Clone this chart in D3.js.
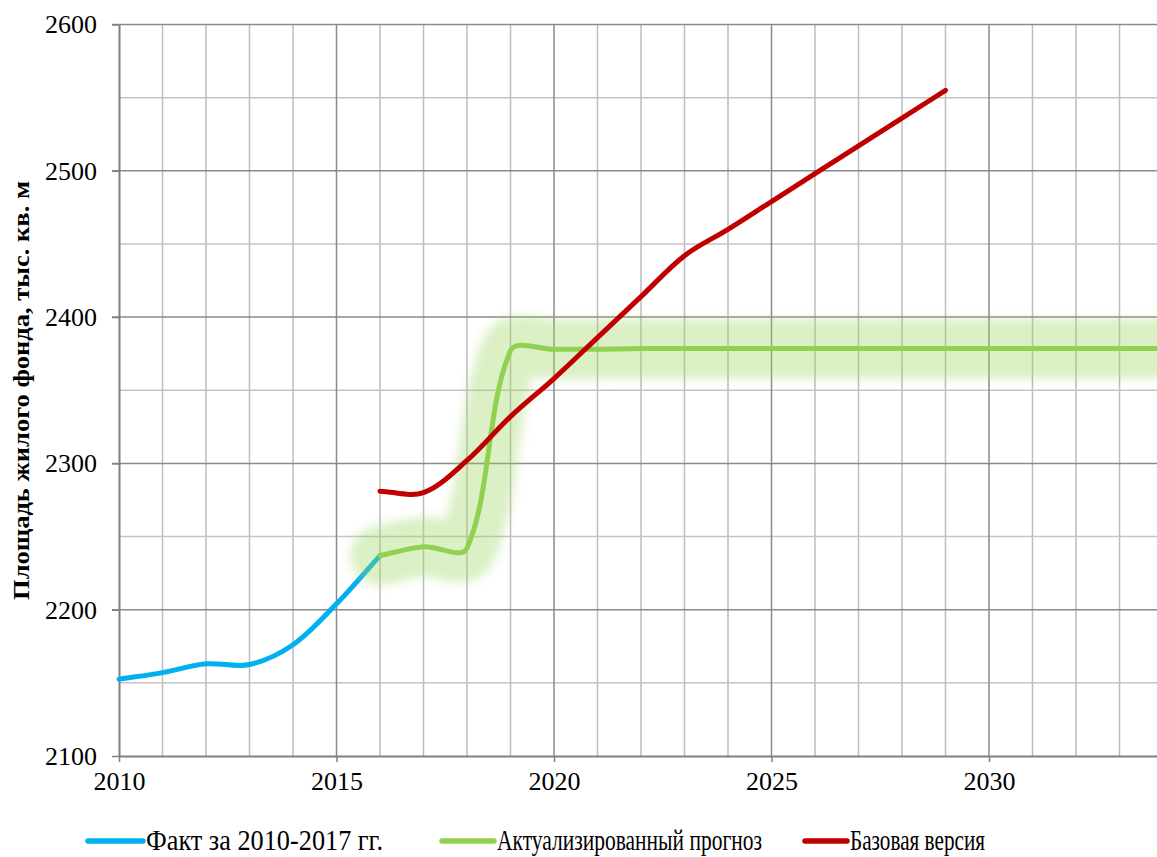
<!DOCTYPE html>
<html><head><meta charset="utf-8">
<script src="https://cdn.jsdelivr.net/npm/d3@7"></script>
<style>
html,body{margin:0;padding:0;background:#fff;}
svg{display:block;}
svg text{font-family:"Liberation Serif","Times New Roman",serif;}
</style></head>
<body><svg id="chart" width="1157" height="857"></svg>
<script>
// ---- data ----
const factYears = [2010, 2011, 2012, 2013, 2014, 2015, 2016];
const factValues = [2152.5, 2157, 2163, 2162.5, 2176, 2204, 2237];

const forecastYears = [2016, 2017, 2018, 2019, 2020, 2021, 2022, 2023, 2024, 2025, 2026, 2027, 2028, 2029, 2030, 2031, 2032, 2033, 2034];
const forecastValues = [2237, 2243, 2242, 2377, 2378, 2378, 2378.5, 2378.5, 2378.5, 2378.5, 2378.5, 2378.5, 2378.5, 2378.5, 2378.5, 2378.5, 2378.5, 2378.5, 2378.5];

const baseYears = [2016, 2017, 2018, 2019, 2020, 2021, 2022, 2023, 2024, 2025, 2026, 2027, 2028, 2029];
const baseValues = [2281, 2280, 2302, 2332, 2358, 2386, 2414, 2442, 2460, 2479, 2498, 2517, 2536, 2555];

const xTicks = [2010, 2015, 2020, 2025, 2030];
const yTicks = [2100, 2200, 2300, 2400, 2500, 2600];
const seriesNames = ["Факт за 2010-2017 гг.", "Актуализированный прогноз", "Базовая версия"];
const yTitle = "Площадь жилого фонда, тыс. кв. м";

// ---- layout ----
const FONT = "'Liberation Serif','Times New Roman',serif";
const svg = d3.select("#chart");
const mLeft = 119, mTop = 24.5, mBottom = 756;
const x = d3.scaleLinear().domain([2010, 2034]).range([mLeft, mLeft + 24 * 43.5]);
const y = d3.scaleLinear().domain([2100, 2600]).range([mBottom, mTop]);

const defs = svg.append("defs");
const f = defs.append("filter").attr("id", "glow").attr("x", "-20%").attr("y", "-50%").attr("width", "140%").attr("height", "200%");
f.append("feGaussianBlur").attr("stdDeviation", 5);

// grid
const g = svg.append("g");
const minorYears = d3.range(2011, 2035).filter(v => v % 5 !== 0);
const majorYears = d3.range(2015, 2035, 5);
const minorVals = d3.range(2150, 2600, 100);
const majorVals = [2200, 2300, 2400, 2500, 2600];

g.selectAll(".vmin").data(minorYears).enter().append("line")
  .attr("x1", d => x(d)).attr("x2", d => x(d)).attr("y1", y(2600)).attr("y2", y(2100))
  .attr("stroke", "#bdbdbd").attr("stroke-width", 1.5);
g.selectAll(".hmin").data(minorVals).enter().append("line")
  .attr("x1", mLeft).attr("x2", 1157).attr("y1", d => y(d)).attr("y2", d => y(d))
  .attr("stroke", "#c4c4c4").attr("stroke-width", 1.5);
g.selectAll(".vmaj").data(majorYears).enter().append("line")
  .attr("x1", d => x(d)).attr("x2", d => x(d)).attr("y1", y(2600)).attr("y2", y(2100))
  .attr("stroke", "#8a8a8a").attr("stroke-width", 1.5);
g.selectAll(".hmaj").data(majorVals).enter().append("line")
  .attr("x1", mLeft - 7).attr("x2", 1157).attr("y1", d => y(d)).attr("y2", d => y(d))
  .attr("stroke", "#8a8a8a").attr("stroke-width", 1.5);

// axes
const xAxis = svg.append("g").attr("transform", `translate(0,${mBottom})`)
  .call(d3.axisBottom(x).tickValues(xTicks).tickFormat(d3.format("d")).tickSize(6).tickSizeOuter(0));
xAxis.attr("font-family", FONT);
xAxis.select(".domain").attr("stroke", "#7f7f7f").attr("stroke-width", 2);
xAxis.selectAll(".tick line").attr("stroke", "#7f7f7f").attr("stroke-width", 1.5);
xAxis.selectAll("text").attr("font-size", 26).attr("fill", "#000").attr("font-family", FONT).attr("dy", "0.95em");

const yAxis = svg.append("g").attr("transform", `translate(${mLeft},0)`)
  .call(d3.axisLeft(y).tickValues(yTicks).tickFormat(d3.format("d")).tickSize(7).tickSizeOuter(0));
yAxis.attr("font-family", FONT);
yAxis.select(".domain").attr("stroke", "#7f7f7f").attr("stroke-width", 2);
yAxis.selectAll(".tick line").attr("stroke", "#7f7f7f").attr("stroke-width", 1.5);
yAxis.selectAll("text").attr("font-size", 26).attr("fill", "#000").attr("font-family", FONT).attr("x", -22);

// y title
svg.append("text").attr("transform", `translate(29,390.5) rotate(-90)`)
  .attr("text-anchor", "middle").attr("font-family", FONT).attr("font-size", 23).attr("font-weight", "bold")
  .attr("textLength", 419).attr("lengthAdjust", "spacingAndGlyphs").text(yTitle);

// Excel-style smoothed line (chord-length weighted Bezier) built with d3.path
function smoothPath(xs, vs) {
  const p = xs.map((d, i) => [x(d), y(vs[i])]);
  const path = d3.path();
  const dist = (a, b) => Math.hypot(b[0] - a[0], b[1] - a[1]);
  const s = 1 / 3;
  path.moveTo(p[0][0], p[0][1]);
  for (let i = 0; i < p.length - 1; i++) {
    const p0 = p[Math.max(i - 1, 0)], p1 = p[i], p2 = p[i + 1], p3 = p[Math.min(i + 2, p.length - 1)];
    const d01 = dist(p0, p1), d12 = dist(p1, p2), d23 = dist(p2, p3);
    const f1 = (d01 + d12) > 0 ? s * d12 / (d01 + d12) : 0;
    const f2 = (d12 + d23) > 0 ? s * d12 / (d12 + d23) : 0;
    const c1 = [p1[0] + (p2[0] - p0[0]) * f1, p1[1] + (p2[1] - p0[1]) * f1];
    const c2 = [p2[0] - (p3[0] - p1[0]) * f2, p2[1] - (p3[1] - p1[1]) * f2];
    path.bezierCurveTo(c1[0], c1[1], c2[0], c2[1], p2[0], p2[1]);
  }
  return path.toString();
}

const plot = svg.append("g");
plot.append("path").attr("d", smoothPath(factYears, factValues)).attr("fill", "none")
  .attr("stroke", "#00B0F0").attr("stroke-width", 5).attr("stroke-linecap", "round");
plot.append("path").attr("d", smoothPath(forecastYears, forecastValues)).attr("fill", "none")
  .attr("stroke", "#9ed560").attr("stroke-opacity", 0.36).attr("stroke-width", 60)
  .attr("stroke-linecap", "round").attr("stroke-linejoin", "round").attr("filter", "url(#glow)");
plot.append("path").attr("d", smoothPath(forecastYears, forecastValues)).attr("fill", "none")
  .attr("stroke", "#92D050").attr("stroke-width", 5).attr("stroke-linecap", "round");
plot.append("path").attr("d", smoothPath(baseYears, baseValues)).attr("fill", "none")
  .attr("stroke", "#C00000").attr("stroke-width", 5).attr("stroke-linecap", "round");

// legend
const colors = ["#00B0F0", "#92D050", "#C00000"];
const legLine = [[88, 143], [442, 494], [805, 847]];
const legText = [[146, 237], [497, 265], [850, 135]];
const legY = 841;
const leg = svg.append("g");
seriesNames.forEach((name, i) => {
  leg.append("line").attr("x1", legLine[i][0]).attr("x2", legLine[i][1]).attr("y1", legY).attr("y2", legY)
    .attr("stroke", colors[i]).attr("stroke-width", 5.5).attr("stroke-linecap", "round");
  leg.append("text").attr("x", legText[i][0]).attr("y", 850).attr("font-size", 29).attr("font-family", FONT)
    .attr("textLength", legText[i][1]).attr("lengthAdjust", "spacingAndGlyphs")
    .attr("fill", "#000").text(name);
});
</script></body></html>
